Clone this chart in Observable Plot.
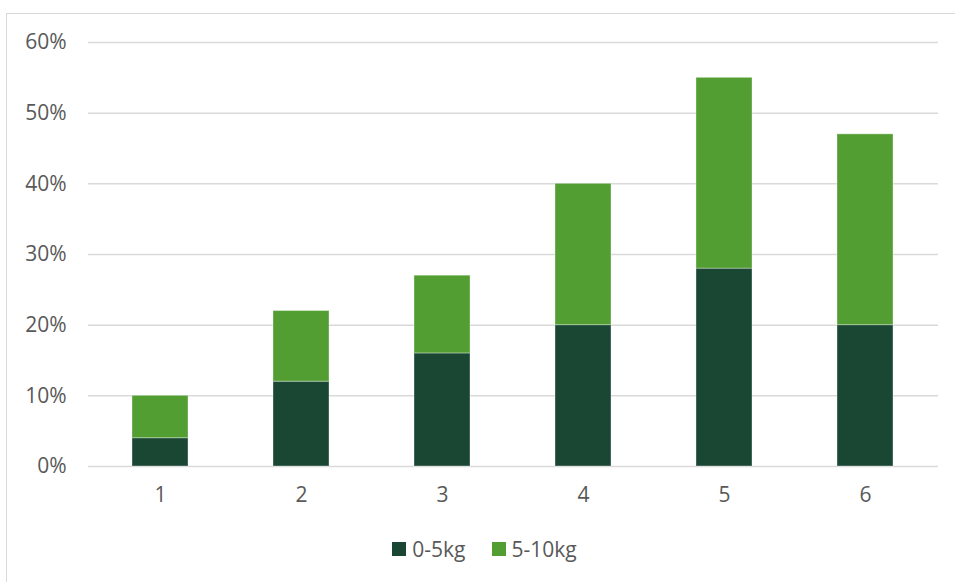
<!DOCTYPE html>
<html>
<head>
<meta charset="utf-8">
<script src="https://cdn.jsdelivr.net/npm/d3@7"></script>
<script src="https://cdn.jsdelivr.net/npm/@observablehq/plot@0.6"></script>
<style>
  html, body { margin: 0; padding: 0; background: #fff; }
  body { width: 955px; height: 582px; position: relative; overflow: hidden; font-family: "Open Sans", sans-serif; }
  #frame { position: absolute; left: 6px; top: 13px; width: 1000px; height: 640px; border: 1.5px solid #d9d9d9; box-sizing: border-box; }
  #chart { position: absolute; left: 0; top: 0; }
  #legend { position: absolute; left: 0; width: 955px; top: 535px; display: flex; justify-content: center; gap: 26px; font-size: 21px; color: #595959; padding-left: 14px; box-sizing: border-box; }
  #legend .item { display: flex; align-items: center; gap: 6px; }
  #legend .sw { width: 14px; height: 14px; display: inline-block; }
</style>
</head>
<body>
<div id="frame"></div>
<div id="chart"></div>
<div id="legend"></div>
<script>
// Groups along the x axis
const groups = ["1", "2", "3", "4", "5", "6"];
// Series names and colours
const seriesNames = ["0-5kg", "5-10kg"];
const seriesColors = ["#1a4734", "#529e32"];
// Share (%) for each series, stacked bottom to top
const light = [4, 12, 16, 20, 28, 20];   // 0-5kg
const heavy = [6, 10, 11, 20, 27, 27];   // 5-10kg
// Y axis ticks
const yTicks = [0, 10, 20, 30, 40, 50, 60];

const rows = [];
groups.forEach((g, i) => {
  rows.push({group: g, series: seriesNames[0], value: light[i]});
  rows.push({group: g, series: seriesNames[1], value: heavy[i]});
});

const textColor = "#595959";

const plot = Plot.plot({
  width: 955,
  height: 520,
  marginLeft: 88,
  marginRight: 17,
  marginTop: 42,
  marginBottom: 54,
  style: {fontFamily: "Open Sans, sans-serif", fontSize: "21px", color: textColor, background: "transparent"},
  x: {domain: groups, paddingInner: 0.6, paddingOuter: 0.3, label: null},
  y: {domain: [0, 60], label: null},
  color: {domain: seriesNames, range: seriesColors},
  marks: [
    Plot.ruleY(yTicks, {stroke: "#d9d9d9", strokeWidth: 1.5}),
    Plot.barY(rows, {x: "group", y: "value", fill: "series", stroke: "#ffffff", strokeOpacity: 0.35, strokeWidth: 1}),
    Plot.axisY({ticks: yTicks, tickSize: 0, tickPadding: 22, tickFormat: d => d + "%", fill: textColor, label: null}),
    Plot.axisX({tickSize: 0, tickPadding: 21, fill: textColor, label: null})
  ]
});
document.getElementById("chart").appendChild(plot);

const legend = document.getElementById("legend");
seriesNames.forEach((name, i) => {
  const item = document.createElement("div");
  item.className = "item";
  const sw = document.createElement("span");
  sw.className = "sw";
  sw.style.background = seriesColors[i];
  const label = document.createElement("span");
  label.textContent = name;
  item.appendChild(sw);
  item.appendChild(label);
  legend.appendChild(item);
});
</script>
</body>
</html>
